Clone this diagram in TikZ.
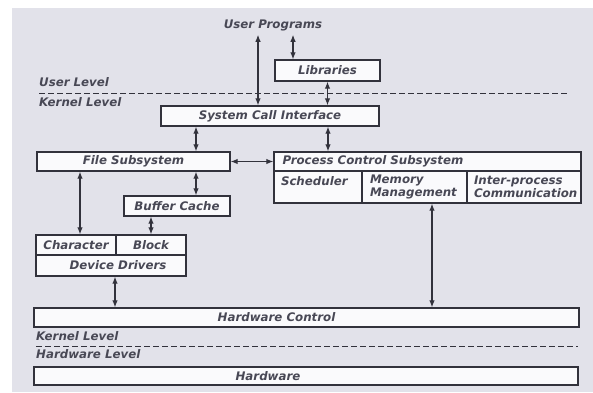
\documentclass[tikz,border=0pt]{standalone}
\usepackage{fontspec}
\setmainfont{DejaVu Sans}
\usepackage{xcolor}
\usepackage{tikz}
\definecolor{bggray}{RGB}{226, 226, 234}
\definecolor{boxfill}{RGB}{250, 250, 252}
\definecolor{linegray}{RGB}{50, 50, 60}
\definecolor{textgray}{RGB}{72, 72, 85}
\usetikzlibrary{arrows.meta, positioning, calc}

\begin{document}
\begin{tikzpicture}[
    x=1pt, y=-1pt,
    font=\bfseries\itshape\fontsize{11.8}{12.5}\selectfont,
    box/.style={rectangle, draw=linegray, fill=boxfill, line width=1.4pt, inner sep=0pt, text=textgray},
    cell/.style={box, minimum height=32pt, align=left},
    level/.style={anchor=west, text=textgray, inner sep=0pt},
    link/.style={<->, >={Latex[length=7pt, width=5.5pt]}, draw=linegray, line width=1.1pt},
    divider/.style={draw=linegray, line width=0.9pt, dash pattern=on 6pt off 3pt}
]
    \useasboundingbox (0,0) rectangle (593,392);
    \fill[bggray] (12,8) rectangle (593,392);

    % user side
    \node[text=textgray, inner sep=4pt] (userprog) at (273,25) {User Programs};
    \node[box, minimum width=105pt, minimum height=21pt] (libs) at (327.5,70.5) {Libraries};

    % kernel
    \node[box, minimum width=218pt, minimum height=20pt] (sci) at (270,116) {System Call Interface};
    \node[box, minimum width=193pt, minimum height=19pt] (filesub) at (133.5,161.5) {File Subsystem};
    \node[box, minimum width=307pt, minimum height=19pt, text width=290pt, align=left] (proc) at (427.5,161.5) {Process Control Subsystem};
    \node[cell, minimum width=88pt, text width=74pt] (sched) at (318,187) {Scheduler\\\mbox{}};
    \node[cell, minimum width=105pt, text width=89pt] (memory) at (414.5,187) {Memory\\Management};
    \node[cell, minimum width=114pt, text width=100pt] (ipc) at (524,187) {Inter-process\\Communication};
    \node[box, minimum width=106pt, minimum height=20pt] (bufcache) at (177,206) {Buffer Cache};
    \node[box, minimum width=80pt, minimum height=20pt] (char) at (76,245) {Character};
    \node[box, minimum width=70pt, minimum height=20pt] (block) at (151,245) {Block};
    \node[box, minimum width=150pt, minimum height=21pt] (devdrv) at (111,265.5) {\hspace*{14pt}Device Drivers};
    \node[box, minimum width=545pt, minimum height=19pt] (hwctrl) at (306.5,317.5) {Hardware Control\hspace*{60pt}};

    % hardware
    \node[box, minimum width=544pt, minimum height=18pt] (hw) at (306,376) {Hardware\hspace*{76pt}};

    % levels
    \node[level] (userlvl) at (39,82) {User Level};
    \node[level] (kernlvl) at (39,102) {Kernel Level};
    \draw[divider] (39,93) -- (568,93);
    \node[level] (kernlvl2) at (36,336) {Kernel Level};
    \node[level] (hwlvl) at (36,354) {Hardware Level};
    \draw[divider] (36,346) -- (578,346);

    % connections
    \draw[link] ([xshift=-12pt]sci.north) -- ([xshift=-12pt]sci.north |- userprog.south);
    \draw[link] ([xshift=-34.5pt]libs.north) -- ([xshift=-34.5pt]libs.north |- userprog.south);
    \draw[link] (libs.south) -- (libs.south |- sci.north);
    \draw[link] ([xshift=-74pt]sci.south) -- ([xshift=-74pt]sci.south |- filesub.north);
    \draw[link] ([xshift=58pt]sci.south) -- ([xshift=58pt]sci.south |- proc.north);
    \draw[link] (filesub.east) -- (proc.west);
    \draw[link] ([xshift=19pt]bufcache.north) -- ([xshift=19pt]bufcache.north |- filesub.south);
    \draw[link] ([xshift=4pt]char.north) -- ([xshift=4pt]char.north |- filesub.south);
    \draw[link] (block.north) -- (block.north |- bufcache.south);
    \draw[link] ([xshift=4pt]devdrv.south) -- ([xshift=4pt]devdrv.south |- hwctrl.north);
    \draw[link] ([xshift=17.5pt]memory.south) -- ([xshift=17.5pt]memory.south |- hwctrl.north);
\end{tikzpicture}
\end{document}
